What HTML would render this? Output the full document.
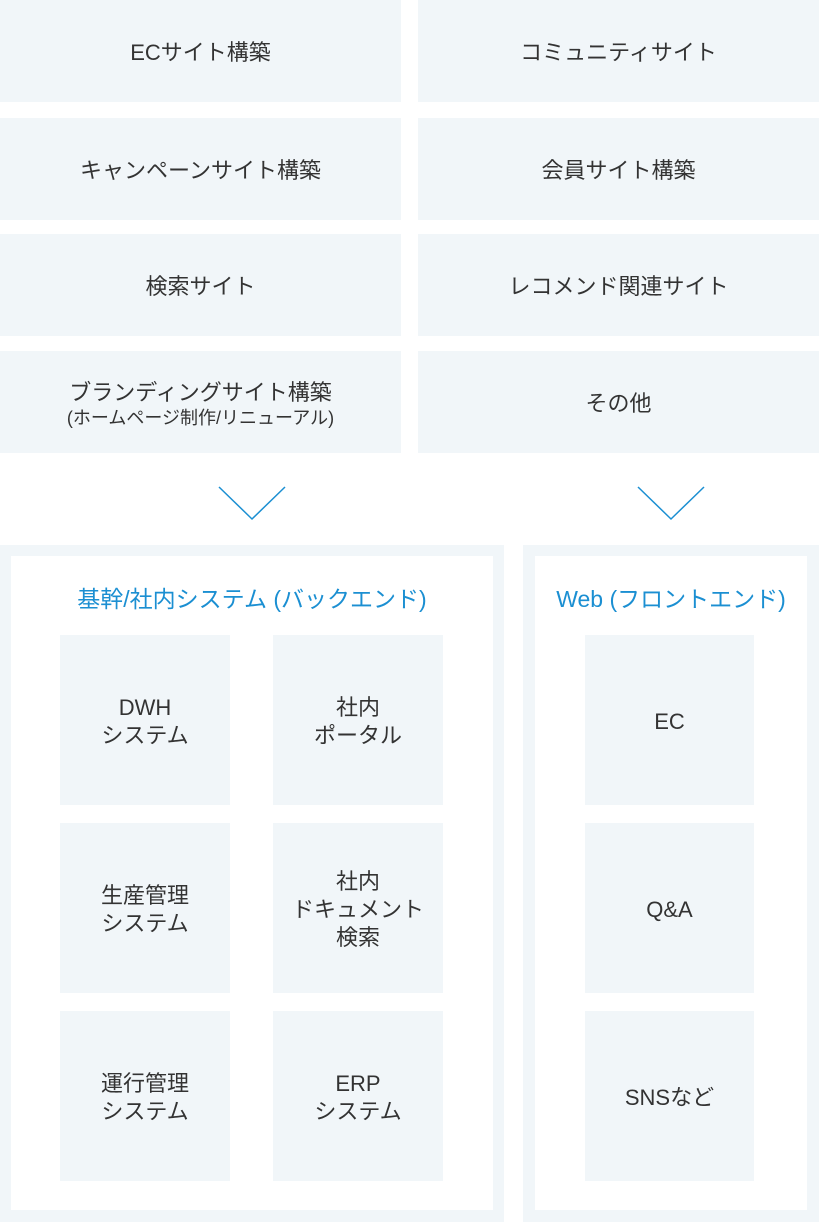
<!DOCTYPE html>
<html><head><meta charset="utf-8"><style>
*{margin:0;padding:0;box-sizing:border-box}
body{width:819px;height:1222px;background:#fff;position:relative;overflow:hidden;font-family:"Liberation Sans","Noto Sans CJK JP",sans-serif;color:#333}
.b{position:absolute;background:#f1f6f9;display:flex;align-items:center;justify-content:center;text-align:center;font-size:22px;line-height:28px;padding-top:3px}
.w{position:absolute;background:#fff}
.t{position:absolute;color:#1b8fd2;font-size:23px;text-align:center}
.s{font-size:18px;line-height:22px}
</style></head><body>
<div class="b" style="left:0;top:0;width:401px;height:102px">ECサイト構築</div>
<div class="b" style="left:418px;top:0;width:401px;height:102px">コミュニティサイト</div>
<div class="b" style="left:0;top:118px;width:401px;height:102px">キャンペーンサイト構築</div>
<div class="b" style="left:418px;top:118px;width:401px;height:102px">会員サイト構築</div>
<div class="b" style="left:0;top:234px;width:401px;height:102px">検索サイト</div>
<div class="b" style="left:418px;top:234px;width:401px;height:102px">レコメンド関連サイト</div>
<div class="b" style="left:0;top:351px;width:401px;height:102px;flex-direction:column">ブランディングサイト構築<span class="s">(ホームページ制作/リニューアル)</span></div>
<div class="b" style="left:418px;top:351px;width:401px;height:102px">その他</div>
<svg style="position:absolute;left:0;top:0" width="819" height="540"><polyline points="219,487 252,519 285,487" fill="none" stroke="#1b8fd2" stroke-width="1.5"/><polyline points="638,487 671,519 704,487" fill="none" stroke="#1b8fd2" stroke-width="1.5"/></svg>
<div class="b" style="left:0;top:545px;width:504px;height:677px"></div>
<div class="w" style="left:11px;top:556px;width:482px;height:654px"></div>
<div class="b" style="left:523px;top:545px;width:296px;height:677px"></div>
<div class="w" style="left:535px;top:556px;width:272px;height:654px"></div>
<div class="t" style="left:11px;top:580px;width:482px">基幹/社内システム (バックエンド)</div>
<div class="t" style="left:535px;top:580px;width:272px">Web (フロントエンド)</div>
<div class="b" style="left:60px;top:635px;width:170px;height:170px">DWH<br>システム</div>
<div class="b" style="left:273px;top:635px;width:170px;height:170px">社内<br>ポータル</div>
<div class="b" style="left:60px;top:823px;width:170px;height:170px">生産管理<br>システム</div>
<div class="b" style="left:273px;top:823px;width:170px;height:170px">社内<br>ドキュメント<br>検索</div>
<div class="b" style="left:60px;top:1011px;width:170px;height:170px">運行管理<br>システム</div>
<div class="b" style="left:273px;top:1011px;width:170px;height:170px">ERP<br>システム</div>
<div class="b" style="left:585px;top:635px;width:169px;height:170px">EC</div>
<div class="b" style="left:585px;top:823px;width:169px;height:170px">Q&amp;A</div>
<div class="b" style="left:585px;top:1011px;width:169px;height:170px">SNSなど</div>
</body></html>
